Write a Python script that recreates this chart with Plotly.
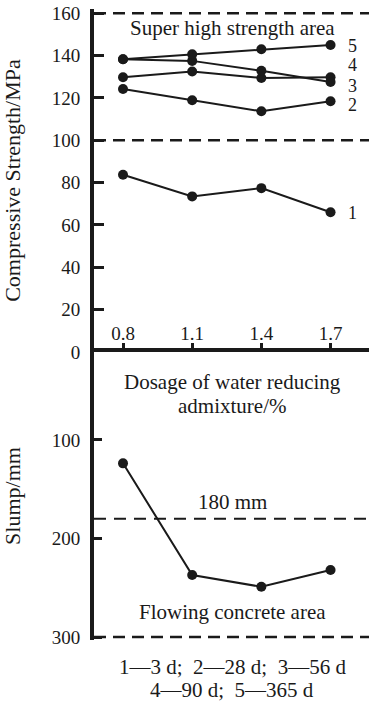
import plotly.graph_objects as go

# Dosage of water reducing admixture (%)
dosage = [0.8, 1.1, 1.4, 1.7]

# Compressive strength (MPa) by curing age
strength_3d = [83.7, 73.5, 77.4, 66.0]
strength_28d = [124.2, 118.9, 113.7, 118.4]
strength_56d = [129.8, 132.5, 129.4, 129.8]
strength_90d = [138.3, 137.5, 132.8, 127.5]
strength_365d = [138.3, 140.6, 143.0, 145.0]

# Slump (mm)
slump = [123.7, 237.0, 249.0, 232.0]

strength_ticks = [0, 20, 40, 60, 80, 100, 120, 140, 160]
slump_ticks = [100, 200, 300]

series = [
    ("1", strength_3d, 65.7),
    ("2", strength_28d, 116.8),
    ("3", strength_56d, 125.8),
    ("4", strength_90d, 135.6),
    ("5", strength_365d, 144.5),
]

FONT = "Liberation Serif"
INK = "#1a1a1a"

fig = go.Figure()

for name, vals, _ in series:
    fig.add_trace(go.Scatter(
        x=dosage, y=vals, mode="lines+markers", name=name,
        line=dict(color=INK, width=2),
        marker=dict(color=INK, size=10),
        xaxis="x", yaxis="y", showlegend=False,
    ))

fig.add_trace(go.Scatter(
    x=dosage, y=slump, mode="lines+markers", name="Slump",
    line=dict(color=INK, width=2),
    marker=dict(color=INK, size=10),
    xaxis="x", yaxis="y2", showlegend=False,
))

split = 0.4564

fig.update_layout(
    width=369, height=703,
    margin=dict(l=94, r=0, t=9, b=63),
    paper_bgcolor="white", plot_bgcolor="white",
    font=dict(family=FONT, color=INK),
    # shared dosage axis, drawn along the boundary between the two panels
    xaxis=dict(
        range=[0.6742, 1.8668], domain=[0, 1], anchor="y2", side="top",
        tickvals=dosage, ticktext=[f"{d:.1f}" for d in dosage],
        ticks="outside", ticklen=5, tickwidth=3, tickcolor=INK,
        tickfont=dict(size=19, family=FONT), ticklabelstandoff=-5,
        showline=True, linewidth=4, linecolor=INK,
        showgrid=False, zeroline=False,
    ),
    yaxis=dict(
        range=[0, 162], domain=[split, 1], anchor="x",
        tickvals=strength_ticks,
        ticks="inside", ticklen=10, tickwidth=2.5, tickcolor=INK,
        tickfont=dict(size=19, family=FONT), ticklabelstandoff=6,
        showline=True, linewidth=4, linecolor=INK,
        showgrid=False, zeroline=False,
        title=dict(text="Compressive Strength/MPa", font=dict(size=22, family=FONT), standoff=26),
    ),
    yaxis2=dict(
        range=[303, 10.7], domain=[0, split], anchor="x",
        tickvals=slump_ticks,
        ticks="inside", ticklen=8, tickwidth=2.5, tickcolor=INK,
        tickfont=dict(size=19, family=FONT), ticklabelstandoff=6,
        showline=True, linewidth=4, linecolor=INK,
        showgrid=False, zeroline=False,
        title=dict(text="Slump/mm", font=dict(size=22, family=FONT), standoff=26),
    ),
)

# Dashed boundary lines of the strength and slump zones
fig.add_shape(type="line", xref="x domain", yref="y", x0=0, x1=1, y0=160, y1=160,
              line=dict(color=INK, width=2.5, dash="12px,7px"))
fig.add_shape(type="line", xref="x domain", yref="y", x0=0, x1=1, y0=100, y1=100,
              line=dict(color=INK, width=2.5, dash="12px,7px"))
fig.add_shape(type="line", xref="x domain", yref="y2", x0=0, x1=1, y0=180, y1=180,
              line=dict(color=INK, width=2, dash="12px,8px"))
fig.add_shape(type="line", xref="x domain", yref="y2", x0=0, x1=1, y0=300, y1=300,
              line=dict(color=INK, width=2.5, dash="12px,7px"))

# Curve labels at the right-hand end
for name, _, ylab in series:
    fig.add_annotation(x=1.797, y=ylab, xref="x", yref="y", text=name,
                       showarrow=False, font=dict(size=18, family=FONT))

text_x = 1.2727
fig.add_annotation(x=text_x, y=153, xref="x", yref="y", text="Super high strength area",
                   showarrow=False, font=dict(size=21, family=FONT))
fig.add_annotation(x=text_x, y=41.1, xref="x", yref="y2", text="Dosage of water reducing",
                   showarrow=False, font=dict(size=21, family=FONT))
fig.add_annotation(x=text_x, y=65.5, xref="x", yref="y2", text="admixture/%",
                   showarrow=False, font=dict(size=21, family=FONT))
fig.add_annotation(x=text_x, y=163, xref="x", yref="y2", text="180 mm",
                   showarrow=False, font=dict(size=21, family=FONT))
fig.add_annotation(x=text_x, y=274.6, xref="x", yref="y2", text="Flowing concrete area",
                   showarrow=False, font=dict(size=21, family=FONT))

# Curing-age key below the chart
fig.add_annotation(x=text_x, y=-0.0649, xref="x", yref="paper",
                   text="1\u20143 d;  2\u201428 d;  3\u201456 d",
                   showarrow=False, font=dict(size=21, family=FONT))
fig.add_annotation(x=text_x, y=-0.1013, xref="x", yref="paper",
                   text="4\u201490 d;  5\u2014365 d",
                   showarrow=False, font=dict(size=21, family=FONT))

fig.write_html("out.html")
